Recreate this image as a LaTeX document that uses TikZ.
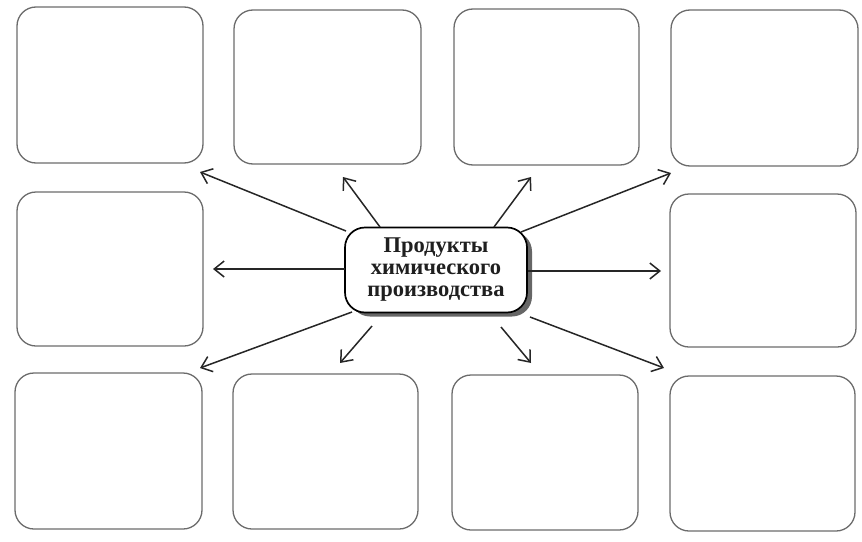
\documentclass[tikz,border=0pt]{standalone}
\usepackage{fontspec}
\setmainfont{Liberation Serif}
\usetikzlibrary{arrows.meta,shadows}
\begin{document}
\begin{tikzpicture}[x=1pt,y=-1pt,
  emptybox/.style={draw=black!58, line width=1.3pt, rounded corners=19pt},
  hub/.style={draw=black, line width=1.7pt, fill=white, rounded corners=20pt,
    minimum width=182pt, minimum height=85pt, align=center, inner sep=0pt,
    font=\fontsize{22.5}{22}\selectfont\bfseries, text=black!88,
    drop shadow={shadow xshift=5pt, shadow yshift=-4pt, fill=black!60, opacity=1}},
  spoke/.style={draw=black!85, line width=1.5pt, -{Straight Barb[length=10pt,width=16pt,line width=1.5pt]}}]
\useasboundingbox (0,0) rectangle (862,541);
% boxes
\draw[emptybox] (17,7) rectangle (203,163);
\draw[emptybox] (234,10) rectangle (421,164);
\draw[emptybox] (454,9) rectangle (639,165);
\draw[emptybox] (671,10) rectangle (858,166);
\draw[emptybox] (17,192) rectangle (203,346);
\draw[emptybox] (670,194) rectangle (856,347);
\draw[emptybox] (15,373) rectangle (202,529);
\draw[emptybox] (233,374) rectangle (418,529);
\draw[emptybox] (452,375) rectangle (638,530);
\draw[emptybox] (670,376) rectangle (855,531);
% hub
\node[hub] (c) at (436,270) {Продукты\\химического\\производства};
% start points
\coordinate (s1) at (346,231);
\coordinate (s2) at (380,227);
\coordinate (s3) at (494,227);
\coordinate (s4) at (521,232);
\coordinate (s5) at (345,269);
\coordinate (s6) at (528,271);
\coordinate (s7) at (352,312);
\coordinate (s8) at (372,326);
\coordinate (s9) at (501,327);
\coordinate (s10) at (530,317);
% tips
\coordinate (t1) at (200,172);
\coordinate (t2) at (343,177);
\coordinate (t3) at (531,177);
\coordinate (t4) at (671,173);
\coordinate (t5) at (213,269);
\coordinate (t6) at (661,271);
\coordinate (t7) at (200,368);
\coordinate (t8) at (340,363);
\coordinate (t9) at (531,363);
\coordinate (t10) at (664,368);
\foreach \i in {1,...,10} \draw[spoke] (s\i) -- (t\i);
\end{tikzpicture}
\end{document}
